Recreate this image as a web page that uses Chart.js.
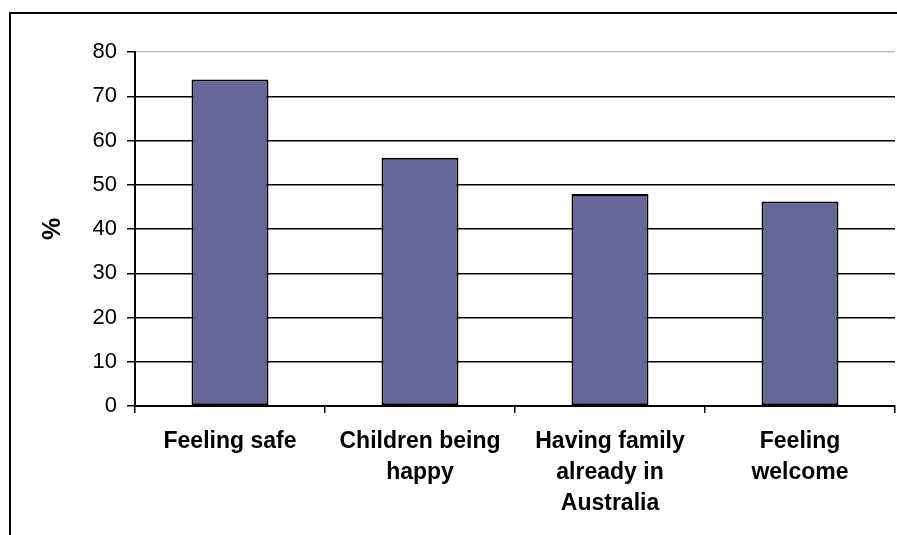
<!DOCTYPE html>
<html>
<head>
<meta charset="utf-8">
<script src="https://cdn.jsdelivr.net/npm/chart.js@4.4.1/dist/chart.umd.min.js"></script>
<style>
  html, body { margin: 0; padding: 0; background: #ffffff; overflow: hidden; }
  #frame { position: absolute; left: 9px; top: 12px; width: 1000px; height: 1000px; border: 2px solid #000; box-sizing: border-box; }
  #wrap { position: absolute; left: 0; top: 0; width: 897px; height: 535px; }
</style>
</head>
<body>
<div id="frame"></div>
<div id="wrap"><canvas id="c" width="897" height="535"></canvas></div>
<script>
const categories = [
  ['Feeling safe'],
  ['Children being', 'happy'],
  ['Having family', 'already in', 'Australia'],
  ['Feeling', 'welcome']
];
const values = [73.8, 56.1, 47.9, 46.2];
const yTicks = [0, 10, 20, 30, 40, 50, 60, 70, 80];

new Chart(document.getElementById('c'), {
  type: 'bar',
  data: {
    labels: categories,
    datasets: [{
      data: values,
      backgroundColor: '#666699',
      borderColor: '#000000',
      borderWidth: 2,
      borderSkipped: false,
      barPercentage: 0.405,
      categoryPercentage: 1.0
    }]
  },
  options: {
    responsive: false,
    animation: false,
    devicePixelRatio: 1,
    layout: { padding: { top: 52, right: 2, bottom: 0, left: 0 } },
    plugins: { legend: { display: false }, tooltip: { enabled: false } },
    scales: {
      x: {
        afterFit: (s) => { s.height = 129; },
        grid: {
          offset: true,
          drawOnChartArea: false,
          drawTicks: true,
          tickLength: 7,
          tickColor: '#000000',
          lineWidth: 1.5
        },
        border: { display: true, color: '#000000', width: 2 },
        ticks: {
          color: '#000000',
          padding: 13,
          maxRotation: 0,
          autoSkip: false,
          font: { family: 'Liberation Sans, Arial, sans-serif', size: 23, weight: 'bold', lineHeight: '31px' }
        }
      },
      y: {
        min: 0,
        max: 80,
        afterFit: (s) => { s.width = 135; },
        afterBuildTicks: (s) => { s.ticks = yTicks.map(v => ({ value: v })); },
        grid: {
          color: (ctx) => (ctx.tick && ctx.tick.value === 80) ? '#c0c0c0' : '#000000',
          tickColor: '#000000',
          lineWidth: 1.5,
          tickLength: 8
        },
        border: { display: true, color: '#000000', width: 2 },
        ticks: {
          stepSize: 10,
          color: '#000000',
          padding: 10,
          font: { family: 'Liberation Sans, Arial, sans-serif', size: 22 }
        },
        title: {
          display: true,
          text: '%',
          color: '#000000',
          padding: { top: 38, bottom: 0 },
          font: { family: 'Liberation Sans, Arial, sans-serif', size: 25, weight: 'bold', lineHeight: '30px' }
        }
      }
    }
  }
});
</script>
</body>
</html>
